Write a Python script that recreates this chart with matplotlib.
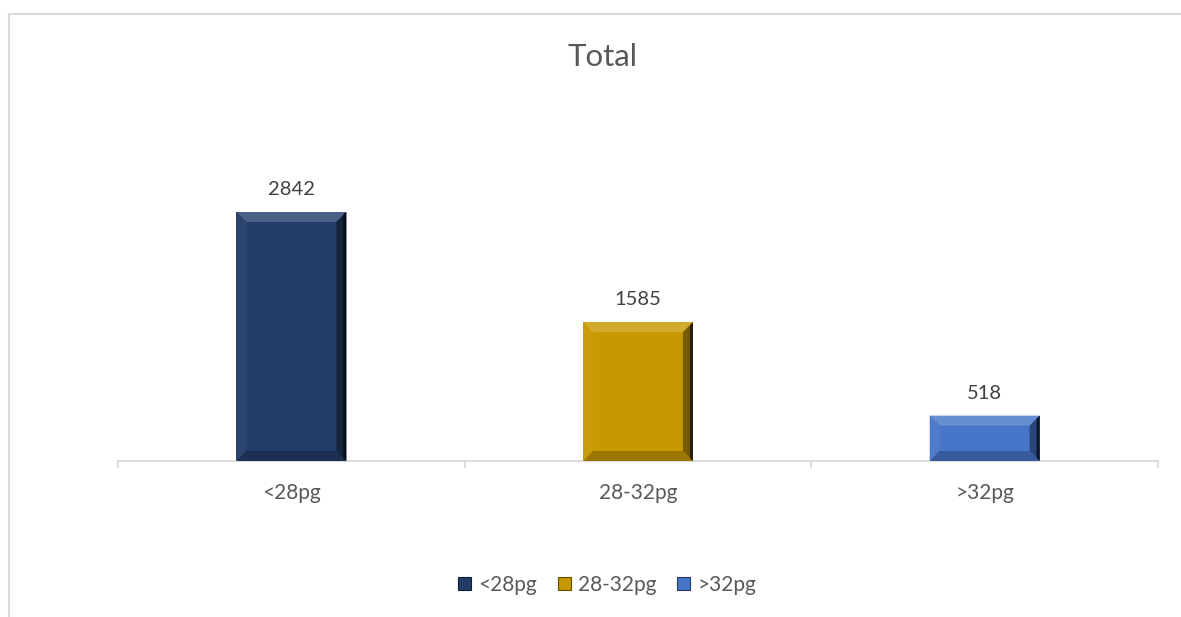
import matplotlib
matplotlib.use("Agg")
import matplotlib.pyplot as plt
from matplotlib.patches import Polygon, Rectangle
from matplotlib.lines import Line2D
import numpy as np

categories = ["<28pg", "28-32pg", ">32pg"]
values = [2842, 1585, 518]
colors = ["#223D69", "#C89800", "#4775C8"]
title = "Total"

plt.rcParams['font.family'] = ['Lato', 'DejaVu Sans']

W, H, DPI = 1181, 617, 100
fig = plt.figure(figsize=(W / DPI, H / DPI), dpi=DPI)
fig.patch.set_facecolor("white")

# axes placement in pixels
left_px, right_px, base_px = 118, 1158, 461
ymax = 3000
px_per_unit = 249 / 2842
top_px = base_px - ymax * px_per_unit
ax = fig.add_axes([left_px / W, (H - base_px) / H, (right_px - left_px) / W, (base_px - top_px) / H])
ax.set_xlim(-0.5, len(categories) - 0.5)
ax.set_ylim(0, ymax)

x = np.arange(len(categories))
bars = ax.bar(x, values, width=0.317, color=colors, zorder=2)

# bevel effect drawn from each bar's own geometry
fig.canvas.draw()
inv = ax.transData.inverted()
def px2data(dx, dy):
    p0 = inv.transform((0, 0))
    p1 = inv.transform((dx, dy))
    return p1[0] - p0[0], p1[1] - p0[1]
bx, by = px2data(10, 10)

def lighten(c, f):
    r = np.array(matplotlib.colors.to_rgb(c))
    return tuple(r + (1 - r) * f)
def darken(c, f):
    r = np.array(matplotlib.colors.to_rgb(c))
    return tuple(r * (1 - f))

for b, c in zip(bars, colors):
    x0, y0, w, h = b.get_x(), b.get_y(), b.get_width(), b.get_height()
    x1, y1 = x0 + w, y0 + h
    e = min(by, h / 2.2)
    # top
    ax.add_patch(Polygon([(x0, y1), (x1, y1), (x1 - bx, y1 - e), (x0 + bx, y1 - e)],
                         closed=True, facecolor=lighten(c, 0.18), edgecolor='none', zorder=3))
    # left
    ax.add_patch(Polygon([(x0, y0), (x0, y1), (x0 + bx, y1 - e), (x0 + bx, y0 + e)],
                         closed=True, facecolor=lighten(c, 0.04), edgecolor='none', zorder=3))
    # right
    ax.add_patch(Polygon([(x1, y0), (x1, y1), (x1 - bx, y1 - e), (x1 - bx, y0 + e)],
                         closed=True, facecolor=darken(c, 0.4), edgecolor='none', zorder=3))
    # bottom
    ax.add_patch(Polygon([(x0, y0), (x1, y0), (x1 - bx, y0 + e), (x0 + bx, y0 + e)],
                         closed=True, facecolor=darken(c, 0.22), edgecolor='none', zorder=3))
    # thin dark right edge
    ax.add_patch(Polygon([(x1, y0), (x1, y1), (x1 - bx * 0.3, y1 - e * 0.3), (x1 - bx * 0.3, y0 + e * 0.3)],
                         closed=True, facecolor=darken(c, 0.8), edgecolor='none', zorder=3))
    ax.text(b.get_x() + w / 2, y1 + px2data(0, 14)[1], f"{int(h)}", ha='center', va='bottom',
            fontsize=14.5, color="#404040")

for s in ["top", "right", "left"]:
    ax.spines[s].set_visible(False)
ax.spines["bottom"].set_color("#D9D9D9")
ax.spines["bottom"].set_linewidth(1.3)
ax.set_yticks([])
ax.set_xticks(x)
ax.set_xticklabels(categories, fontsize=15, color="#595959")
ax.tick_params(axis='x', length=0, pad=16)
# category boundary ticks
for xb in np.arange(-0.5, len(categories), 1.0):
    ax.plot([xb, xb], [0, px2data(0, -6)[1]], color="#D9D9D9", lw=1.3, clip_on=False, zorder=1)

fig.text(603 / W, 1 - 57 / H, title, ha='center', va='center', fontsize=22.5, color="#595959")

# legend
handles = [Rectangle((0, 0), 1, 1, facecolor=c, edgecolor=darken(c, 0.5), linewidth=0.8) for c in colors]
leg = fig.legend(handles, categories, loc='center', bbox_to_anchor=(607 / W, 1 - 585 / H),
                 ncol=3, frameon=False, fontsize=15, handlelength=0.63, handleheight=0.63,
                 handletextpad=0.34, columnspacing=1.0, labelcolor="#595959")

# chart border (left and top visible)
fig.add_artist(Line2D([9.5 / W, 9.5 / W], [0, 1 - 13.5 / H], color="#D9D9D9", lw=1.5))
fig.add_artist(Line2D([9.5 / W, 1], [1 - 13.5 / H, 1 - 13.5 / H], color="#D9D9D9", lw=1.5))

fig.savefig("out.png", dpi=DPI, facecolor="white")
